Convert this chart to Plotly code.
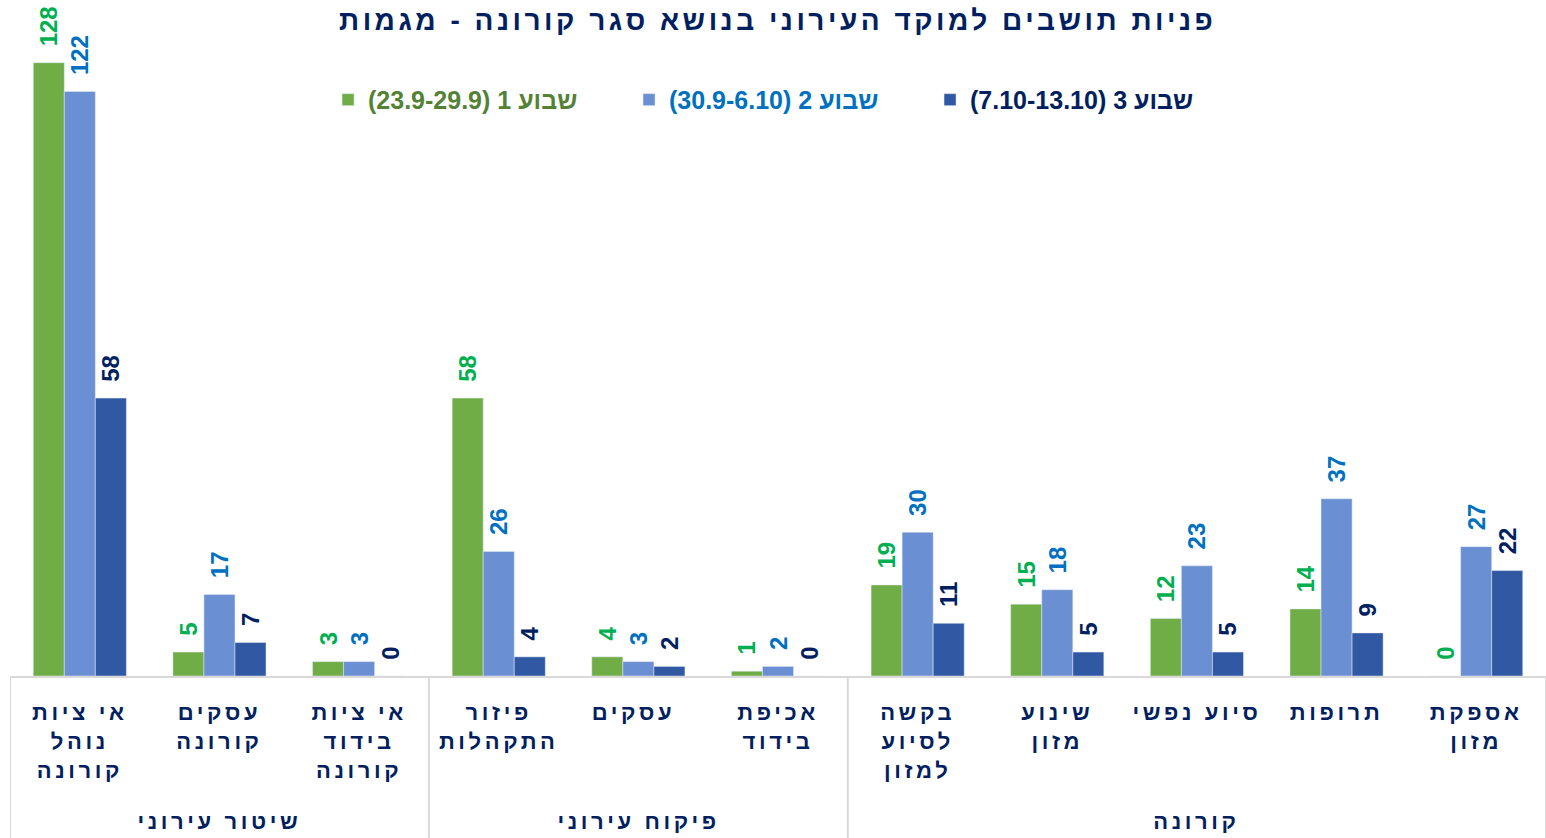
import plotly.graph_objects as go

categories = [
    "אי ציות<br>נוהל<br>קורונה",
    "עסקים<br>קורונה",
    "אי ציות<br>בידוד<br>קורונה",
    "פיזור<br>התקהלות",
    "עסקים ",
    "אכיפת<br>בידוד",
    "בקשה<br>לסיוע<br>למזון",
    "שינוע<br>מזון",
    "סיוע נפשי",
    "תרופות",
    "אספקת<br>מזון",
]
groups = ["שיטור עירוני", "פיקוח עירוני", "קורונה"]
group_centers = [1, 4, 8]
group_bounds = [-0.5, 2.5, 5.5, 10.5]

week1 = [128, 5, 3, 58, 4, 1, 19, 15, 12, 14, 0]
week2 = [122, 17, 3, 26, 3, 2, 30, 18, 23, 37, 27]
week3 = [58, 7, 0, 4, 2, 0, 11, 5, 5, 9, 22]

series_names = ["שבוע 1 (23.9-29.9)", "שבוע 2 (30.9-6.10)", "שבוע 3 (7.10-13.10)"]
bar_colors = ["#70AD47", "#6A8FD2", "#3158A2"]
label_colors = ["#00B050", "#0070C0", "#002060"]
legend_text_colors = ["#548235", "#0070C0", "#002060"]

title = "פניות תושבים למוקד העירוני בנושא סגר קורונה - מגמות"
FONT = "Liberation Sans, Arial, sans-serif"
NAVY = "#002060"

x_idx = list(range(len(categories)))
fig = go.Figure()
for vals, name, bc, lc, tc in zip([week1, week2, week3], series_names, bar_colors, label_colors, legend_text_colors):
    fig.add_trace(go.Bar(
        x=x_idx, y=vals,
        name=f"<b><span style='color:{tc}'>\u200f{name}\u200f</span></b>",
        marker=dict(color=bc),
        text=vals, texttemplate="<b>\u00a0\u00a0%{text}</b>",
        textposition="outside", textangle=-90,
        textfont=dict(size=24, color=lc, family=FONT),
        constraintext="none", cliponaxis=False,
    ))

for c, g in zip(group_centers, groups):
    fig.add_annotation(x=c, y=-0.218, xref="x", yref="paper", text=f"<b>{g}</b>",
                       showarrow=False, font=dict(size=22, color=NAVY, family=FONT),
                       yanchor="middle")
for b in group_bounds:
    fig.add_shape(type="line", xref="x", yref="paper", x0=b, x1=b, y0=0, y1=-0.25,
                  line=dict(color="#D9D9D9", width=2))

fig.update_layout(
    width=1546, height=838,
    margin=dict(l=10, r=0, t=10, b=162),
    paper_bgcolor="white", plot_bgcolor="white",
    barmode="group", bargap=0.333, bargroupgap=0,
    title=dict(text=f"<b>{title}</b>", x=0.503, xanchor="center", y=0.976, yanchor="middle",
               font=dict(size=28, color=NAVY, family=FONT)),
    legend=dict(orientation="h", x=0.501, xanchor="center", y=0.865, yanchor="middle",
                font=dict(size=25, family=FONT), entrywidth=256, bgcolor="rgba(0,0,0,0)",
                itemclick=False),
    showlegend=True,
    xaxis=dict(tickmode="array", tickvals=x_idx, ticktext=[f"<b>{c}</b>" for c in categories],
               range=[-0.5, 10.5], showline=True, linecolor="#D9D9D9", linewidth=2,
               ticks="outside", ticklen=16, tickcolor="rgba(0,0,0,0)",
               tickfont=dict(size=22, color=NAVY, family=FONT), tickangle=0,
               showgrid=False, zeroline=False),
    yaxis=dict(range=[0, 139], visible=False, showgrid=False),
)

post = """
document.body.style.margin = '0';
var gd = document.getElementById('{plot_id}');
gd.querySelectorAll('.gtitle').forEach(function(t){ t.style.letterSpacing = '3.5px'; });
gd.querySelectorAll('.xtick text').forEach(function(t){ t.style.letterSpacing = '3.6px'; });
gd.querySelectorAll('.annotation-text').forEach(function(t){ t.style.letterSpacing = '3.6px'; });
"""
fig.write_html("out.html", post_script=post, config={"displayModeBar": False})
